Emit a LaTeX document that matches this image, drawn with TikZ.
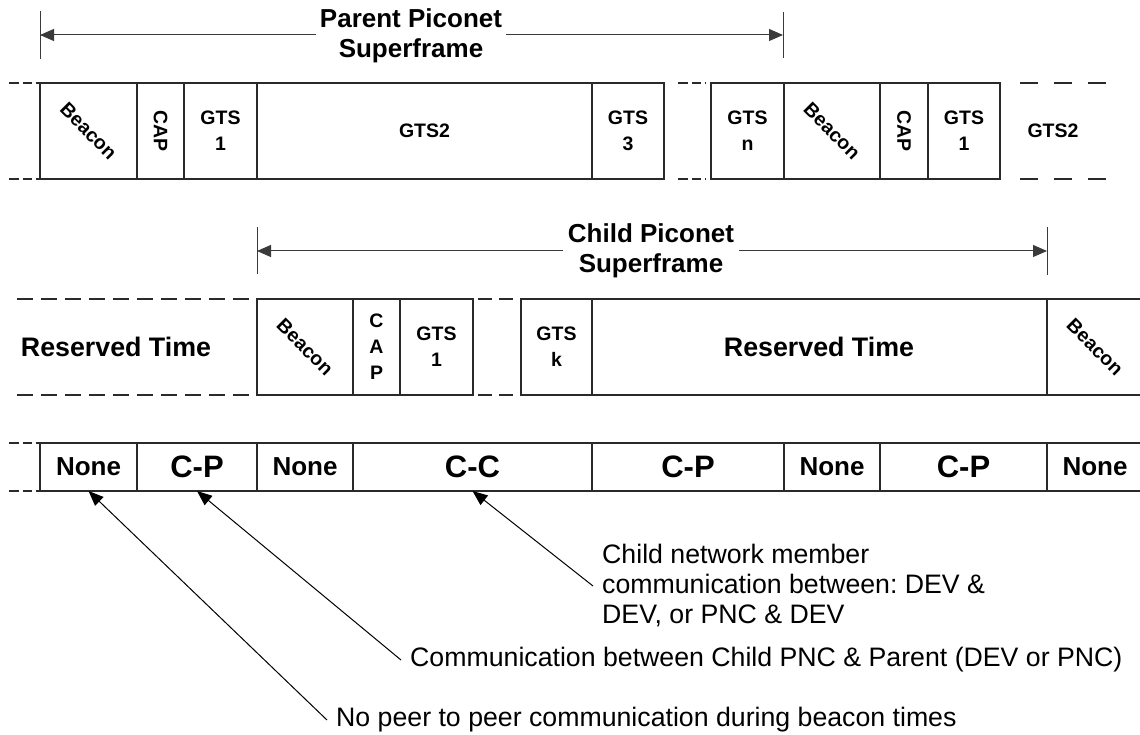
\documentclass[tikz,border=0pt]{standalone}
\usepackage{fontspec}
\setmainfont{Liberation Sans}
\usetikzlibrary{arrows.meta}
\definecolor{lc}{HTML}{2A2A2A}
\definecolor{lc2}{HTML}{3A3A3A}
\frenchspacing
\tikzset{
  frame/.style={draw=lc, line width=1.3pt, inner sep=0pt, outer sep=0pt, anchor=north west},
  small/.style={font=\bfseries\fontsize{19.5}{26}\selectfont, align=center, inner sep=0pt},
  big/.style={font=\bfseries\fontsize{26}{30}\selectfont, align=center, inner sep=0pt},
  bigr/.style={font=\bfseries\fontsize{26.8}{30}\selectfont, align=center, inner sep=0pt},
  huge/.style={font=\bfseries\fontsize{31}{34}\selectfont, inner sep=0pt},
  note/.style={font=\fontsize{26.7}{30}\selectfont, align=left, anchor=west, inner xsep=9pt, inner ysep=0pt},
  solidline/.style={draw=lc, line width=1.3pt},
  ldash/.style={draw=lc, line width=1.3pt, dash pattern=on 16pt off 8pt},
  mdash/.style={draw=lc, line width=1.3pt, dash pattern=on 14pt off 7pt},
  sdash/.style={draw=lc, line width=1.3pt, dash pattern=on 9.5pt off 4pt},
  rdash/.style={draw=lc, line width=1.3pt, dash pattern=on 18pt off 16pt},
  tick/.style={draw=lc2, line width=1pt},
  dim/.style={draw=lc2, line width=1pt, -{Triangle[length=14pt,width=12pt]}},
  callout/.style={draw=black, line width=1pt, -{Triangle[length=15pt,width=12pt]}}
}
\newcommand\cellbox[5]{\node[frame, minimum width={#3pt-#2pt}, minimum height={#5pt-#4pt}] (#1) at (#2,#4) {};}
\begin{document}
\begin{tikzpicture}[x=1pt, y=-1pt]
\path[use as bounding box] (0,0) rectangle (1140,735);

% ---------- Parent superframe dimension ----------
\coordinate (pl) at (40,35);
\coordinate (pr) at (783,35);
\draw[tick] (40,11) -- (40,59);
\draw[tick] (783,12) -- (783,58);
\node[big, inner xsep=4pt] (ptxt) at (411,36) {Parent Piconet\\Superframe};
\draw[dim] (ptxt.west |- pl) -- (pl);
\draw[dim] (ptxt.east |- pr) -- (pr);

% ---------- Top row (parent) ----------
\cellbox{pa}{40}{137}{83}{179}
\cellbox{pb}{137}{184}{83}{179}
\cellbox{pc}{184}{257}{83}{179}
\cellbox{pd}{257}{592}{83}{179}
\cellbox{pe}{592}{664}{83}{179}
\cellbox{pf}{711}{784}{83}{179}
\cellbox{pg}{784}{880}{83}{179}
\cellbox{ph}{880}{928}{83}{179}
\cellbox{pi}{928}{1000}{83}{179}
\node[small, rotate=-45] (tpa) at (pa) {Beacon};
\node[small, rotate=-90] (tpb) at (pb) {CAP};
\node[small] (tpc) at (pc) {GTS\\1};
\node[small] (tpd) at (pd) {GTS2};
\node[small] (tpe) at (pe) {GTS\\3};
\node[small] (tpf) at (pf) {GTS\\n};
\node[small, rotate=-45] (tpg) at (pg) {Beacon};
\node[small, rotate=-90] (tph) at (ph) {CAP};
\node[small] (tpi) at (pi) {GTS\\1};
\node[small] (tpj) at (1053,131) {GTS2};
\draw[sdash] (9,83) -- (40,83);
\draw[sdash] (9,179) -- (40,179);
\draw[sdash] (678,83) -- (706,83);
\draw[sdash] (678,179) -- (706,179);
\draw[rdash] (1020,83) -- (1115,83);
\draw[rdash] (1020,179) -- (1115,179);

% ---------- Child superframe dimension ----------
\coordinate (cl) at (257,251);
\coordinate (cr) at (1047,251);
\draw[tick] (257,227) -- (257,274);
\draw[tick] (1047,227) -- (1047,275);
\node[big, inner xsep=5pt] (ctxt) at (651,251) {Child Piconet\\Superframe};
\draw[dim] (ctxt.west |- cl) -- (cl);
\draw[dim] (ctxt.east |- cr) -- (cr);

% ---------- Middle row (child) ----------
\cellbox{ca}{257}{353}{299}{395}
\cellbox{cb}{353}{400}{299}{395}
\cellbox{cc}{400}{473}{299}{395}
\cellbox{cd}{521}{592}{299}{395}
\cellbox{ce}{592}{1047}{299}{395}
\node[small, rotate=-45] (tca) at (ca) {Beacon};
\node[small] (tcb) at (cb) {C\\A\\P};
\node[small] (tcc) at (cc) {GTS\\1};
\node[small] (tcd) at (cd) {GTS\\k};
\node[bigr] (tce) at (819,347) {Reserved Time};
\node[bigr] (tcl) at (116,347) {Reserved Time};
\node[small, rotate=-45] (tcf) at (1095,347) {Beacon};
\draw[ldash] (17,299) -- (257,299);
\draw[ldash] (17,395) -- (257,395);
\draw[mdash] (478,299) -- (516,299);
\draw[mdash] (478,395) -- (516,395);
\draw[solidline] (1047,299) -- (1140,299);
\draw[solidline] (1047,395) -- (1140,395);

% ---------- Bottom row (communication) ----------
\cellbox{ba}{40}{137}{443}{491}
\cellbox{bb}{137}{257}{443}{491}
\cellbox{bc}{257}{353}{443}{491}
\cellbox{bd}{353}{592}{443}{491}
\cellbox{be}{592}{784}{443}{491}
\cellbox{bf}{784}{880}{443}{491}
\cellbox{bg}{880}{1047}{443}{491}
\node[big] (tba) at (ba) {None};
\node[huge] (tbb) at (bb) {C-P};
\node[big] (tbc) at (bc) {None};
\node[huge] (tbd) at (bd) {C-C};
\node[huge] (tbe) at (be) {C-P};
\node[big] (tbf) at (bf) {None};
\node[huge] (tbg) at (bg) {C-P};
\node[big] (tbh) at (1095,467) {None};
\draw[sdash] (9,443) -- (40,443);
\draw[sdash] (9,491) -- (40,491);
\draw[solidline] (1047,443) -- (1140,443);
\draw[solidline] (1047,491) -- (1140,491);

% ---------- Annotations ----------
\node[note] (n1) at (593,586) {Child network member\\communication between: DEV \&\\DEV, or PNC \& DEV};
\node[note] (n2) at (401,660) {Communication between Child PNC \& Parent (DEV or PNC)};
\node[note] (n3) at (327,720) {No peer to peer communication during beacon times};
\draw[callout] (n1.west) -- (bd.south);
\draw[callout] (n2.west) -- (bb.south);
\draw[callout] (n3.west) -- (ba.south);
\end{tikzpicture}
\end{document}
